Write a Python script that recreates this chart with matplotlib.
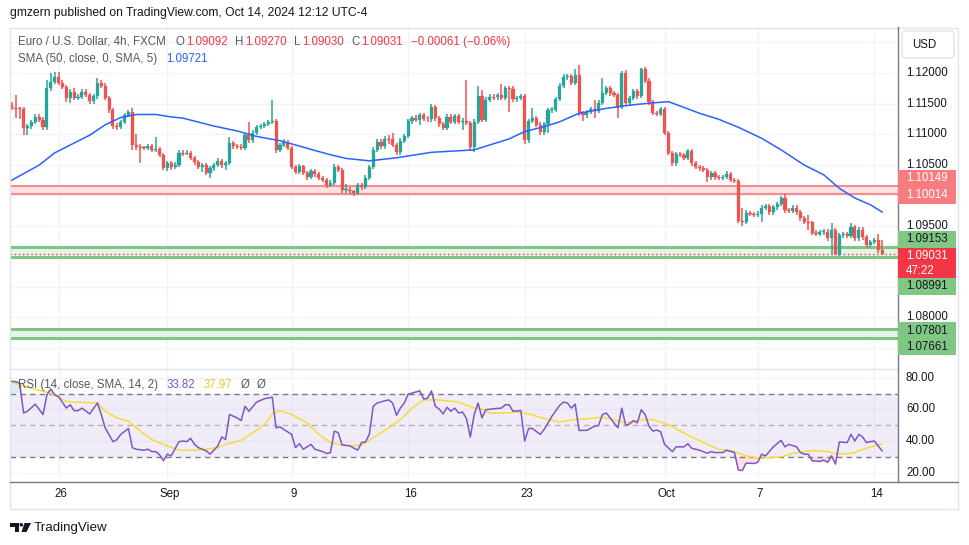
import numpy as np
import matplotlib
matplotlib.use("Agg")
import matplotlib.pyplot as plt
from matplotlib.patches import Rectangle, FancyBboxPatch, Polygon, Circle
from matplotlib.lines import Line2D
from matplotlib import transforms

plt.rcParams['font.family'] = ['Liberation Sans', 'DejaVu Sans']

# ---- EURUSD 4h candles (open of each bar = previous close) ----
first_open = 1.1148
close = [
    1.1143, 1.1142, 1.1141, 1.1110, 1.1113, 1.1120, 1.1128, 1.1123, 1.1111, 1.1175,
    1.1185, 1.1193, 1.1184, 1.1177, 1.1159, 1.1169, 1.1159, 1.1161, 1.1169, 1.1164,
    1.1154, 1.1162, 1.1184, 1.1179, 1.1159, 1.1139, 1.1113, 1.1111, 1.1120, 1.1131,
    1.1136, 1.1082, 1.1079, 1.1078, 1.1077, 1.1080, 1.1074, 1.1075, 1.1066, 1.1044,
    1.1052, 1.1046, 1.1049, 1.1069, 1.1068, 1.1069, 1.1061, 1.1054, 1.1046, 1.1049,
    1.1036, 1.1044, 1.1049, 1.1056, 1.1049, 1.1052, 1.1085, 1.1080, 1.1079, 1.1077,
    1.1098, 1.1090, 1.1102, 1.1111, 1.1113, 1.1116, 1.1120, 1.1121, 1.1074, 1.1082,
    1.1087, 1.1077, 1.1046, 1.1038, 1.1047, 1.1036, 1.1029, 1.1039, 1.1034, 1.1028,
    1.1025, 1.1016, 1.1020, 1.1046, 1.1041, 1.1008, 1.1009, 1.1006, 1.1003, 1.1016,
    1.1013, 1.1028, 1.1046, 1.1074, 1.1087, 1.1080, 1.1092, 1.1091, 1.1082, 1.1070,
    1.1089, 1.1097, 1.1121, 1.1126, 1.1123, 1.1131, 1.1125, 1.1124, 1.1144, 1.1126,
    1.1116, 1.1110, 1.1128, 1.1120, 1.1129, 1.1120, 1.1122, 1.1118, 1.1079, 1.1120,
    1.1162, 1.1123, 1.1156, 1.1161, 1.1160, 1.1164, 1.1159, 1.1175, 1.1174, 1.1157,
    1.1159, 1.1162, 1.1090, 1.1121, 1.1126, 1.1115, 1.1103, 1.1116, 1.1139, 1.1140,
    1.1157, 1.1179, 1.1193, 1.1195, 1.1184, 1.1197, 1.1134, 1.1131, 1.1136, 1.1141,
    1.1138, 1.1151, 1.1167, 1.1175, 1.1167, 1.1164, 1.1144, 1.1200, 1.1151, 1.1159,
    1.1170, 1.1162, 1.1207, 1.1187, 1.1152, 1.1134, 1.1133, 1.1141, 1.1102, 1.1069,
    1.1052, 1.1067, 1.1066, 1.1061, 1.1072, 1.1052, 1.1046, 1.1044, 1.1041, 1.1029,
    1.1036, 1.1029, 1.1028, 1.1029, 1.1034, 1.1025, 1.1023, 1.0957, 1.0956, 1.0970,
    1.0969, 1.0968, 1.0969, 1.0979, 1.0982, 1.0972, 1.0980, 1.0985, 1.0995, 1.0975,
    1.0974, 1.0979, 1.0972, 1.0962, 1.0956, 1.0955, 1.0938, 1.0936, 1.0939, 1.0940,
    1.0929, 1.0943, 1.0903, 1.0934, 1.0936, 1.0933, 1.0947, 1.0929, 1.0943, 1.0931,
    1.0918, 1.0923, 1.0926, 1.09092, 1.09031]

# wick lengths beyond the body, in pips
wick_up = [
    5, 21, 3, 3, 4, 3, 4, 5, 5, 13,
    15, 8, 8, 4, 3, 5, 6, 4, 4, 5,
    4, 4, 7, 4, 4, 3, 4, 5, 3, 4,
    4, 7, 18, 4, 3, 4, 4, 20, 4, 3,
    4, 3, 5, 4, 4, 5, 3, 3, 3, 4,
    3, 4, 3, 4, 3, 4, 10, 3, 3, 4,
    4, 21, 4, 3, 3, 4, 3, 34, 3, 4,
    4, 3, 3, 4, 4, 3, 3, 4, 3, 3,
    3, 3, 4, 5, 4, 3, 9, 4, 3, 4,
    3, 4, 4, 4, 5, 4, 4, 7, 10, 3,
    4, 3, 4, 4, 5, 4, 4, 4, 6, 4,
    3, 3, 4, 4, 4, 3, 4, 66, 3, 4,
    16, 10, 4, 5, 4, 4, 18, 4, 3, 4,
    3, 4, 3, 4, 16, 3, 4, 4, 4, 4,
    4, 5, 5, 4, 3, 10, 16, 3, 4, 4,
    15, 4, 25, 4, 3, 3, 4, 3, 5, 4,
    4, 3, 2, 3, 4, 3, 4, 4, 3, 3,
    3, 4, 4, 3, 4, 3, 3, 4, 4, 3,
    4, 4, 4, 4, 5, 4, 3, 3, 21, 5,
    4, 3, 4, 5, 4, 4, 4, 4, 4, 6,
    4, 4, 4, 3, 3, 11, 3, 4, 4, 4,
    4, 11, 3, 4, 4, 4, 7, 4, 5, 4,
    3, 4, 4, 10, 17.8]
wick_dn = [
    3, 16, 16, 11, 11, 4, 3, 3, 5, 5,
    4, 3, 4, 4, 7, 8, 4, 4, 3, 4,
    5, 4, 4, 4, 4, 4, 5, 5, 3, 4,
    3, 8, 5, 25, 4, 3, 4, 4, 4, 3,
    4, 5, 4, 3, 4, 3, 4, 4, 4, 8,
    4, 8, 4, 3, 4, 8, 3, 4, 3, 3,
    3, 4, 4, 3, 3, 3, 3, 4, 5, 4,
    3, 4, 4, 4, 3, 4, 4, 3, 4, 4,
    4, 4, 3, 4, 4, 5, 5, 4, 4, 3,
    4, 3, 3, 4, 3, 4, 4, 7, 4, 4,
    4, 3, 3, 4, 3, 8, 4, 4, 5, 4,
    4, 4, 3, 4, 3, 4, 13, 4, 7, 8,
    3, 4, 4, 3, 4, 4, 4, 3, 38, 4,
    4, 3, 7, 4, 3, 4, 4, 4, 15, 4,
    4, 3, 3, 4, 4, 3, 4, 10, 4, 4,
    11, 4, 3, 3, 4, 4, 18, 3, 4, 4,
    3, 4, 3, 4, 4, 3, 4, 4, 4, 4,
    4, 5, 4, 4, 3, 4, 4, 4, 4, 7,
    4, 4, 4, 4, 3, 4, 4, 3, 7, 4,
    4, 4, 4, 13, 4, 4, 4, 4, 3, 4,
    4, 4, 4, 4, 4, 13, 4, 4, 4, 4,
    4, 25, 2, 3, 4, 4, 4, 4, 4, 4,
    5, 4, 4, 4, 0.1]

# SMA(50)
sma_bar = [-1, 7, 11, 15, 20, 24, 28, 32, 37, 41, 44, 52, 58, 63, 69,
           73, 78, 82, 86, 92, 99, 108, 119, 123, 128, 132, 137, 141, 146, 153,
           160, 165, 169, 172, 177, 182, 187, 193, 198, 204, 209, 213, 217, 221, 224]
sma_val = [1.1021, 1.1049, 1.1069, 1.1082, 1.1098, 1.1115, 1.1127, 1.1132, 1.1132, 1.1128,
           1.1126, 1.1113, 1.1105, 1.1096, 1.1089, 1.1082, 1.1073, 1.1066, 1.1060, 1.1056,
           1.1061, 1.1070, 1.1074, 1.1082, 1.1092, 1.1104, 1.1112, 1.1120, 1.1134, 1.1142,
           1.1148, 1.1151, 1.1153, 1.1146, 1.1134, 1.1124, 1.1111, 1.1093, 1.1074, 1.1049,
           1.1033, 1.1011, 1.0995, 1.0984, 1.09721]

# RSI(14) and its SMA(14)
rsi_bar = [-1, 1, 2, 3, 4, 6, 8, 9, 10, 11,
           12, 14, 15, 16, 17, 18, 20, 22, 23, 24,
           26, 27, 28, 30, 31, 32, 34, 35, 36, 37,
           38, 39, 40, 41, 43, 44, 45, 46, 47, 48,
           50, 51, 52, 53, 54, 55, 56, 58, 59, 60,
           61, 63, 65, 67, 68, 69, 70, 72, 73, 74,
           75, 77, 78, 80, 81, 82, 83, 84, 85, 87,
           89, 90, 91, 92, 93, 94, 96, 97, 98, 99,
           100, 101, 102, 105, 106, 107, 108, 109, 110, 111,
           112, 113, 114, 115, 116, 117, 118, 119, 120, 121,
           122, 124, 126, 127, 128, 129, 131, 132, 133, 134,
           136, 137, 138, 139, 141, 142, 143, 144, 145, 146,
           148, 150, 151, 152, 153, 154, 155, 156, 157, 158,
           159, 160, 161, 162, 163, 164, 165, 166, 167, 168,
           170, 171, 173, 174, 175, 177, 179, 180, 181, 183,
           184, 186, 187, 188, 189, 191, 192, 193, 194, 196,
           198, 199, 200, 202, 203, 204, 205, 206, 208, 209,
           210, 211, 212, 213, 215, 216, 217, 218, 219, 220,
           221, 222, 223, 224]
rsi_val = [77.9, 77.5, 76.5, 57.7, 58.8, 63.3, 56.7, 69.2, 72.9, 69.2,
           68.1, 60.8, 62.9, 59.2, 59.2, 60.8, 57.1, 64.0, 56.7, 48.3,
           39.6, 40.8, 44.2, 47.9, 35.8, 34.8, 34.2, 34.8, 33.3, 33.3,
           31.3, 27.5, 31.7, 30.6, 39.6, 40.0, 39.6, 41.7, 37.9, 35.8,
           33.8, 31.7, 34.2, 36.9, 42.5, 41.0, 56.7, 54.6, 52.9, 61.9,
           58.8, 64.6, 66.7, 67.7, 48.3, 49.0, 47.3, 44.2, 35.8, 38.3,
           34.8, 37.9, 34.8, 33.3, 32.1, 32.7, 46.3, 45.2, 37.5, 36.9,
           34.2, 39.0, 39.4, 44.2, 61.9, 64.0, 65.4, 66.0, 64.0, 56.3,
           60.8, 64.0, 69.6, 71.7, 66.5, 67.1, 71.7, 61.9, 60.2, 57.1,
           61.3, 58.8, 60.8, 57.7, 58.3, 54.2, 42.5, 56.7, 64.0, 54.6,
           59.8, 60.4, 60.8, 62.9, 62.9, 58.8, 59.2, 40.0, 47.9, 47.9,
           44.2, 47.3, 51.5, 55.6, 62.5, 64.6, 64.0, 60.8, 63.3, 46.7,
           46.7, 49.4, 49.8, 56.7, 57.7, 54.6, 51.5, 48.3, 60.8, 49.8,
           50.8, 52.9, 51.5, 59.8, 56.7, 49.4, 46.3, 46.9, 45.8, 37.9,
           33.3, 36.3, 36.3, 38.3, 35.4, 34.2, 32.3, 33.3, 32.7, 32.7,
           34.2, 32.7, 21.7, 21.3, 26.0, 25.8, 26.5, 31.7, 30.6, 36.3,
           40.4, 36.3, 37.9, 36.3, 32.7, 31.7, 31.7, 27.5, 27.1, 27.9,
           26.5, 30.6, 25.4, 39.4, 39.0, 44.2, 40.0, 44.2, 42.5, 39.0,
           39.6, 40.0, 36.9, 33.82]
rsi_ma_bar = [-1, 5, 10, 14, 17, 22, 24, 27, 30, 33,
              36, 40, 43, 47, 50, 53, 55, 59, 62, 65,
              67, 69, 72, 76, 79, 82, 85, 88, 90, 93,
              97, 100, 103, 106, 109, 112, 115, 119, 121, 123,
              126, 131, 133, 138, 141, 145, 148, 152, 155, 158,
              162, 165, 169, 172, 175, 179, 182, 186, 189, 192,
              194, 198, 201, 205, 207, 210, 212, 214, 217, 219,
              222, 224]
rsi_ma_val = [77.9, 73.3, 70.2, 65.0, 64.6, 64.0, 58.8, 54.6, 52.5, 46.3,
              41.0, 36.9, 34.2, 34.2, 34.8, 35.8, 37.9, 40.4, 45.2, 50.4,
              57.1, 59.2, 56.7, 51.5, 44.2, 39.0, 37.5, 37.1, 37.3, 42.1,
              48.3, 53.5, 60.8, 66.0, 66.0, 65.4, 64.6, 60.8, 60.1, 57.7,
              57.7, 58.3, 57.1, 53.5, 52.1, 53.5, 54.0, 55.0, 53.5, 51.5,
              53.5, 53.5, 50.4, 46.3, 42.5, 37.9, 34.8, 33.3, 30.6, 29.2,
              29.2, 30.0, 32.1, 33.8, 33.8, 33.3, 32.1, 31.7, 32.7, 34.8,
              36.9, 37.97]

# drawn support / resistance zones (top, bottom, colour)
zones = [(1.10149, 1.10014, 'red'), (1.09153, 1.08991, 'green'), (1.07801, 1.07661, 'green')]
last_price = 1.09031
countdown = '47:22'
price_ticks = [1.120, 1.115, 1.110, 1.105, 1.095, 1.080]
rsi_ticks = [80, 60, 40, 20]
date_pos = [12, 40, 72, 102, 132, 168, 192, 222]
date_lbl = ['26', 'Sep', '9', '16', '23', 'Oct', '7', '14']

W, H = 970, 545
UP, DOWN = '#26a69a', '#ef5350'
GRID = '#f0f3fa'
TXT = '#131722'
GREY = '#555862'
FS = 8.3

fig = plt.figure(figsize=(W / 100, H / 100), dpi=100)
fig.patch.set_facecolor('white')


def box(x0, y0, x1, y1):
    return [x0 / W, 1 - y1 / H, (x1 - x0) / W, (y1 - y0) / H]


ax = fig.add_axes(box(10, 27, 898, 369))
axr = fig.add_axes(box(10, 369, 898, 482))
for a in (ax, axr):
    a.set_xlim(-0.5, 228.1)
    a.set_xticks([])
    a.set_yticks([])
    for s in a.spines.values():
        s.set_visible(False)
ax.set_ylim(1.07148, 1.12754)
axr.set_ylim(14.1, 85.5)

# grid
for x in date_pos:
    ax.axvline(x, color=GRID, lw=1, zorder=0)
    axr.axvline(x, color=GRID, lw=1, zorder=0)
for p in np.arange(1.075, 1.1251, 0.005):
    ax.axhline(p, color=GRID, lw=1, zorder=0)
for v in rsi_ticks:
    axr.axhline(v, color=GRID, lw=1, zorder=0)

# zones
for top, bot, kind in zones:
    if kind == 'red':
        fill, edge, lw = '#fde2e3', '#f28c8e', 1.5
    else:
        fill, edge, lw = '#e6f4e7', '#7fc583', 2.2
    ax.axhspan(bot, top, color=fill, lw=0, zorder=1)
    ax.axhline(top, color=edge, lw=lw, zorder=2)
    ax.axhline(bot, color=edge, lw=lw, zorder=2)

# candles
c = np.array(close)
o = np.r_[first_open, c[:-1]]
hi = np.maximum(o, c) + np.array(wick_up) * 1e-4
lo = np.minimum(o, c) - np.array(wick_dn) * 1e-4
cols = np.where(c >= o, UP, DOWN)
idx = np.arange(len(c))
wicks = ax.vlines(idx, lo, hi, colors=cols, lw=1.1, zorder=3)
wicks.set_snap(True)
body = np.maximum(np.abs(c - o), 0.00014)
mid = (o + c) / 2
ax.bar(idx, body, bottom=mid - body / 2, width=0.8, color=cols, edgecolor=cols, lw=0.2, zorder=4)

ax.plot(sma_bar, sma_val, color='#2962ff', lw=1.1, zorder=5)
ax.axhline(last_price, color='#f23645', lw=1, ls=(0, (1, 2)), zorder=6)

# RSI pane
axr.axhspan(30, 70, color='#7e57c2', alpha=0.1, lw=0, zorder=0.5)
axr.axhline(70, color='#787b86', lw=1, ls=(0, (4, 3)), zorder=1)
axr.axhline(50, color='#787b86', alpha=0.5, lw=1, ls=(0, (4, 3)), zorder=1)
axr.axhline(30, color='#787b86', lw=1, ls=(0, (4, 3)), zorder=1)
rb, rv = np.array(rsi_bar), np.array(rsi_val)
axr.fill_between(rb, rv, 70, where=rv > 70, interpolate=True, color='#089981', alpha=0.15, lw=0)
axr.fill_between(rb, rv, 30, where=rv < 30, interpolate=True, color='#f23645', alpha=0.15, lw=0)
axr.plot(rsi_ma_bar, rsi_ma_val, color='#f5dc3c', lw=1.1, zorder=3)
axr.plot(rb, rv, color='#7e57c2', lw=1.1, zorder=4)


# frame and separators (pixel coordinates, top origin)
def hline_px(y, x0, x1, color, lw=1):
    fig.add_artist(Line2D([x0 / W, x1 / W], [1 - y / H, 1 - y / H], color=color, lw=lw,
                          transform=fig.transFigure))


def vline_px(x, y0, y1, color, lw=1):
    fig.add_artist(Line2D([x / W, x / W], [1 - y0 / H, 1 - y1 / H], color=color, lw=lw,
                          transform=fig.transFigure))


fig.add_artist(Rectangle((10.5 / W, 1 - 509 / H), 947.5 / W, 481.5 / H, fill=False,
                         ec='#e0e3eb', lw=1, transform=fig.transFigure))
hline_px(369, 10, 898, '#e0e3eb')
hline_px(482, 10, 958, '#787b86')
vline_px(898, 27, 482, '#787b86')

# axis labels
for p in price_ticks:
    ax.text(1.009, p, f'{p:.5f}', transform=ax.get_yaxis_transform(), fontsize=FS,
            color=TXT, va='center', ha='left', clip_on=False)
for v in rsi_ticks:
    axr.text(1.009, v, f'{v:.2f}', transform=axr.get_yaxis_transform(), fontsize=FS,
             color=TXT, va='center', ha='left', clip_on=False)
tr = transforms.blended_transform_factory(axr.transData, fig.transFigure)
for x, s in zip(date_pos, date_lbl):
    axr.text(x + 0.6, 1 - 494 / H, s, transform=tr, fontsize=FS, color=TXT,
             ha='center', va='center', clip_on=False)


# coloured price tags on the right scale (shift = px pushed down to avoid overlaps)
def price_tag(price, lines, bg, fg, shift):
    yc = ax.transData.transform((0, price))[1] - shift
    h = 17 if len(lines) == 1 else 30
    fig.add_artist(Rectangle((898 / W, (yc - h / 2) / H), 58 / W, h / H, fc=bg, ec='none',
                             transform=fig.transFigure, zorder=5))
    for k, s in enumerate(lines):
        ty = yc + (len(lines) - 1) * 7.5 - k * 15
        fig.text(906 / W, ty / H, s, color=fg, fontsize=FS, va='center', ha='left', zorder=6)


price_tag(zones[0][0], [f'{zones[0][0]:.5f}'], '#f77c80', 'white', -7.5)
price_tag(zones[0][1], [f'{zones[0][1]:.5f}'], '#f77c80', 'white', 1)
price_tag(zones[1][0], [f'{zones[1][0]:.5f}'], '#81c784', TXT, -7.6)
price_tag(last_price, [f'{last_price:.5f}', countdown], '#f23645', 'white', 9)
price_tag(zones[1][1], [f'{zones[1][1]:.5f}'], '#81c784', TXT, 29.5)
price_tag(zones[2][0], [f'{zones[2][0]:.5f}'], '#81c784', TXT, 1.4)
price_tag(zones[2][1], [f'{zones[2][1]:.5f}'], '#81c784', TXT, 8.9)

# USD button
fig.add_artist(FancyBboxPatch((902, H - 58), 52, 27, boxstyle='round,pad=0,rounding_size=4',
                              fc='white', ec='#e0e3eb', lw=1,
                              transform=transforms.IdentityTransform()))
fig.text(912 / W, 1 - 44.5 / H, 'USD', fontsize=FS, color=TXT, va='center', ha='left')

# legends
renderer = fig.canvas.get_renderer()


def legend_row(x, y, parts, size=FS):
    for txt, col, gap in parts:
        t = fig.text(x / W, 1 - y / H, txt, color=col, fontsize=size, va='center', ha='left', zorder=10)
        x = t.get_window_extent(renderer).x1 + gap


RED = '#f23645'
legend_row(10, 13, [('gmzern published on TradingView.com, Oct 14, 2024 12:12 UTC-4', TXT, 0)], size=8.7)
legend_row(18, 42, [('Euro / U.S. Dollar, 4h, FXCM', GREY, 10),
                    ('O', GREY, 1), ('1.09092', RED, 8),
                    ('H', GREY, 1), ('1.09270', RED, 8),
                    ('L', GREY, 1), ('1.09030', RED, 8),
                    ('C', GREY, 1), ('1.09031', RED, 8),
                    ('\u22120.00061 (\u22120.06%)', RED, 0)])
legend_row(18, 59, [('SMA (50, close, 0, SMA, 5)', GREY, 9), ('1.09721', '#2962ff', 0)])
legend_row(18, 385, [('RSI (14, close, SMA, 14, 2)', GREY, 9), ('33.82', '#7e57c2', 8),
                     ('37.97', '#e6c92e', 8), ('\u00d8', GREY, 8), ('\u00d8', GREY, 0)])

# TradingView logo
ident = transforms.IdentityTransform()
fig.add_artist(Polygon([(10, H - 523), (19, H - 523), (19, H - 532), (14.5, H - 532),
                        (14.5, H - 526.5), (10, H - 526.5)], closed=True, fc=TXT, ec='none',
                       transform=ident))
fig.add_artist(Circle((21.3, H - 524.8), 1.8, fc=TXT, ec='none', transform=ident))
fig.add_artist(Polygon([(24.5, H - 523), (31, H - 523), (26.5, H - 532), (21.5, H - 532)],
                       closed=True, fc=TXT, ec='none', transform=ident))
fig.text(34 / W, 1 - 527.5 / H, 'TradingView', fontsize=9.6, color=TXT, va='center', ha='left')

fig.savefig('out.png', dpi=100, facecolor='white')
